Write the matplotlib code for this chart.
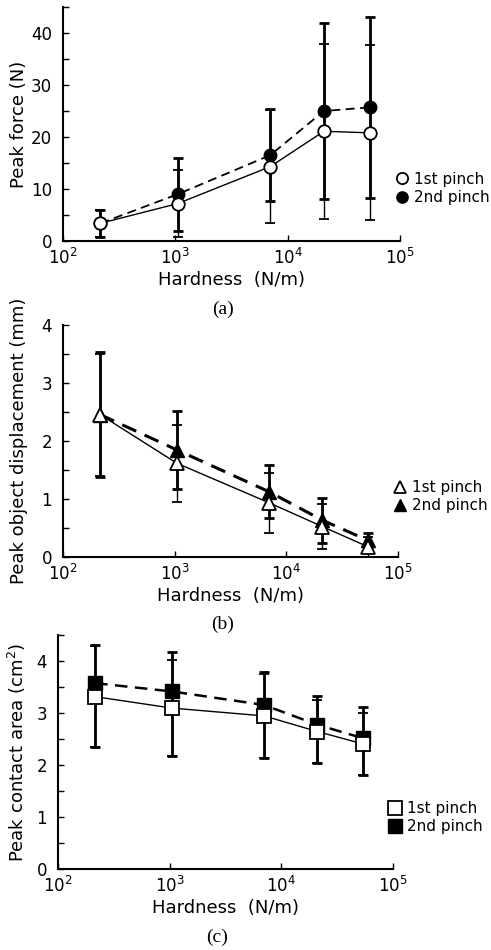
import numpy as np
import matplotlib
matplotlib.use("Agg")
import matplotlib.pyplot as plt
from matplotlib.lines import Line2D
from matplotlib.ticker import MultipleLocator, LogLocator, NullLocator

plt.rcParams["font.family"] = ["DejaVu Sans"]
plt.rcParams["mathtext.default"] = "regular"

# ---------- Datos ----------
hardness = [215, 1050, 7000, 21000, 54000]  # N/m

force_1st = [3.4, 7.2, 14.3, 21.1, 20.8]
force_1st_err = [2.6, 6.4, 10.8, 16.8, 16.8]
force_2nd = [3.4, 9.0, 16.5, 25.0, 25.7]
force_2nd_err = [2.6, 7.0, 8.9, 17.0, 17.4]

disp_1st = [2.45, 1.61, 0.93, 0.52, 0.17]
disp_1st_err = [1.05, 0.66, 0.52, 0.39, 0.17]
disp_2nd = [2.45, 1.84, 1.12, 0.63, 0.28]
disp_2nd_err = [1.08, 0.68, 0.46, 0.39, 0.13]

area_1st = [3.32, 3.10, 2.95, 2.65, 2.41]
area_1st_err = [0.97, 0.93, 0.80, 0.60, 0.60]
area_2nd = [3.58, 3.42, 3.16, 2.78, 2.52]
area_2nd_lo = [1.23, 1.24, 1.02, 0.73, 0.71]
area_2nd_hi = [0.73, 0.75, 0.63, 0.55, 0.60]

labels = ["1st pinch", "2nd pinch"]


def panel(rect, y1, e1, y2, e2, marker, ms, ymax, ylabel, letter,
          leg_y, dash_lw, ylab_x, letter_dx):
    ax = fig.add_axes(rect)
    # 2nd pinch: discontinua, relleno, barras gruesas
    ax.errorbar(hardness, y2, yerr=e2, fmt=marker, ls=(0, (5, 3)), lw=dash_lw,
                color="black", mfc="black", mec="black", ms=ms,
                elinewidth=2.0, capsize=3.5, capthick=2.0, zorder=2)
    # 1st pinch: continua, hueco, barras finas
    ax.errorbar(hardness, y1, yerr=e1, fmt=marker, ls="-", lw=1.0,
                color="black", mfc="white", mec="black", mew=1.3, ms=ms,
                elinewidth=1.0, capsize=3.5, capthick=1.0, zorder=3)

    ax.set_xscale("log")
    ax.set_xlim(1e2, 1e5)
    ax.set_ylim(0, ymax)
    ax.xaxis.set_major_locator(LogLocator(base=10))
    ax.xaxis.set_minor_locator(NullLocator())
    step = 10 if ymax > 10 else 1
    ax.yaxis.set_major_locator(MultipleLocator(step))
    ax.yaxis.set_minor_locator(MultipleLocator(step / 2))
    ax.tick_params(which="both", direction="in", width=1.0, labelsize=12)
    ax.tick_params(axis="y", which="major", length=4, pad=8)
    ax.tick_params(axis="y", which="minor", length=4)
    ax.tick_params(axis="x", which="major", length=4, pad=5)
    for s in ["top", "right"]:
        ax.spines[s].set_visible(False)
    for s in ["left", "bottom"]:
        ax.spines[s].set_linewidth(1.5)

    ax.set_xlabel("Hardness  (N/m)", fontsize=13, labelpad=2)
    ax.set_ylabel(ylabel, fontsize=13)
    ax.yaxis.set_label_coords(ylab_x, 0.5)
    ax.annotate(letter, xy=(0.5, 0), xycoords="axes fraction",
                xytext=(letter_dx, -49), textcoords="offset points",
                ha="center", va="center", fontsize=14,
                family=["Liberation Serif", "DejaVu Serif"])

    handles = [
        Line2D([], [], ls="none", marker=marker, ms=ms * 0.9, mfc="white",
               mec="black", mew=1.3),
        Line2D([], [], ls="none", marker=marker, ms=ms * 0.9, mfc="black",
               mec="black"),
    ]
    ax.legend(handles, labels, loc="center left", bbox_to_anchor=(0.97, leg_y),
              frameon=False, fontsize=11, handlelength=0.8,
              handletextpad=0.35, labelspacing=0.2, borderaxespad=0)
    return ax


fig = plt.figure(figsize=(4.91, 9.5), dpi=100)

panel([63 / 491, 709 / 950, 337 / 491, 234 / 950],
      force_1st, force_1st_err, force_2nd, force_2nd_err,
      "o", 9, 45, "Peak force (N)", "(a)", 0.225, 1.3, -0.105, -6)

panel([63 / 491, 393.3 / 950, 335 / 491, 232 / 950],
      disp_1st, disp_1st_err, disp_2nd, disp_2nd_err,
      "^", 10, 4, "Peak object displacement (mm)", "(b)", 0.26, 2.2, -0.105, -6)

panel([58 / 491, 80.7 / 950, 335 / 491, 234 / 950],
      area_1st, area_1st_err, area_2nd, [area_2nd_lo, area_2nd_hi],
      "s", 10.5, 4.5, "Peak contact area (cm$^2$)", "(c)", 0.22, 1.8, -0.09, -6)

fig.savefig("out.png", dpi=100)
